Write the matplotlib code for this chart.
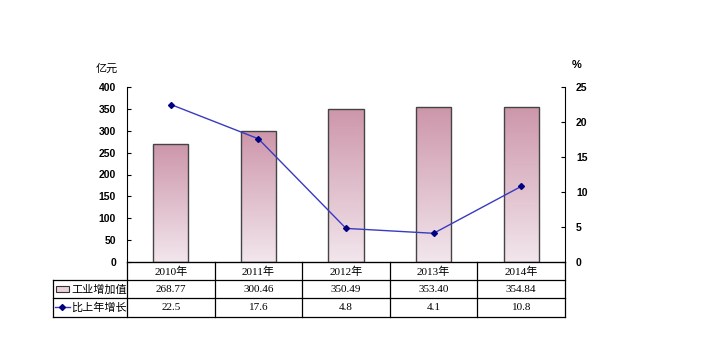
import numpy as np
import matplotlib
matplotlib.use("Agg")
from matplotlib import pyplot as plt
from matplotlib.patches import Rectangle
from matplotlib.lines import Line2D

years = ["2010年", "2011年", "2012年", "2013年", "2014年"]
value_added = [268.77, 300.46, 350.49, 353.40, 354.84]
growth = [22.5, 17.6, 4.8, 4.1, 10.8]
value_labels = ["268.77", "300.46", "350.49", "353.40", "354.84"]
growth_labels = ["22.5", "17.6", "4.8", "4.1", "10.8"]
series_names = ["工业增加值", "比上年增长"]

W, H = 703, 340
fig = plt.figure(figsize=(W / 100, H / 100), dpi=100)

cell_font = ["Liberation Serif", "Noto Sans CJK SC"]
tick_font = "Liberation Sans"

# plot area in pixel coordinates
x0, x1 = 127, 565
y_top, y_base = 87, 262
ax = fig.add_axes([x0 / W, 1 - y_base / H, (x1 - x0) / W, (y_base - y_top) / H])
x = np.arange(len(years))
ax.set_xlim(-0.5, len(years) - 0.5)
ax.set_ylim(0, 400)
ax.set_yticks(np.arange(0, 401, 50))
ax.set_xticks([])
for s in ("top", "right"):
    ax.spines[s].set_visible(False)
ax.spines["left"].set_linewidth(0.8)
ax.spines["bottom"].set_linewidth(0.8)
ax.tick_params(axis="y", direction="in", length=3, width=0.8, pad=8, labelsize=7.5)
for lab in ax.get_yticklabels():
    lab.set_fontweight("bold")
    lab.set_fontfamily(tick_font)

# bars with a vertical pink gradient
grad = np.linspace(0, 1, 256).reshape(-1, 1)
top_c = np.array([205, 150, 170]) / 255
bot_c = np.array([242, 230, 236]) / 255
grad_img = (bot_c * (1 - grad)[..., None] + top_c * grad[..., None]).reshape(256, 1, 3)
bars = ax.bar(x, value_added, width=0.4, facecolor="none",
              edgecolor="#444444", linewidth=1.0, zorder=3)
for b in bars:
    bx, by = b.get_x(), b.get_y()
    im = ax.imshow(grad_img, extent=[bx, bx + b.get_width(), by, by + b.get_height()],
                   origin="lower", aspect="auto", zorder=2, interpolation="bilinear")
    im.set_clip_path(b)
ax.set_xlim(-0.5, len(years) - 0.5)
ax.set_ylim(0, 400)

ax2 = ax.twinx()
ax2.set_ylim(0, 25)
ax2.set_yticks(np.arange(0, 26, 5))
for s in ("top", "left", "bottom"):
    ax2.spines[s].set_visible(False)
ax2.spines["right"].set_linewidth(0.8)
ax2.tick_params(axis="y", direction="in", length=3, width=0.8, pad=8, labelsize=7.5)
for lab in ax2.get_yticklabels():
    lab.set_fontweight("bold")
    lab.set_fontfamily(tick_font)
ax2.plot(x, growth, color="#3a3ac0", linewidth=1.0, marker="D", markersize=3,
         markerfacecolor="#000080", markeredgecolor="#000080", zorder=5)

fig.text(107 / W, 1 - 69 / H, "亿元", family=cell_font, fontsize=8,
         ha="center", va="center")
fig.text(577 / W, 1 - 65 / H, "%", family=tick_font, fontsize=8,
         fontweight="bold", ha="center", va="center")

# data table under the plot
tx0, ty_top, ty_bot = 53, 262, 317
tab = fig.add_axes([tx0 / W, 1 - ty_bot / H, (x1 - tx0) / W, (ty_bot - ty_top) / H])
tab.set_axis_off()
tab.set_xlim(tx0, x1)
tab.set_ylim(ty_bot, ty_top)
col_w = (x1 - x0) / len(years)
rows = [262, 280, 298, 317]
lw = 0.9
kw = dict(color="black", linewidth=lw, clip_on=False)
# horizontal lines
tab.plot([x0, x1], [rows[0], rows[0]], **kw)
for r in rows[1:]:
    tab.plot([tx0, x1], [r, r], **kw)
# vertical lines
tab.plot([tx0, tx0], [rows[1], rows[3]], **kw)
for i in range(len(years) + 1):
    xv = x0 + i * col_w
    tab.plot([xv, xv], [rows[0], rows[3]], **kw)

for i in range(len(years)):
    cx = x0 + (i + 0.5) * col_w
    for r, txt in enumerate([years[i], value_labels[i], growth_labels[i]]):
        tab.text(cx, (rows[r] + rows[r + 1]) / 2 + 0.5, txt, family=cell_font,
                 fontsize=8, ha="center", va="center")

# legend keys in the first column
tab.add_patch(Rectangle((56, 286), 13, 6, facecolor="#ecd2dc",
                        edgecolor="#333333", linewidth=0.8, clip_on=False))
tab.add_line(Line2D([55, 70], [307.5, 307.5], color="#3a3ac0", linewidth=1.0,
                    clip_on=False))
tab.plot([62.5], [307.5], marker="D", markersize=3, color="#000080", clip_on=False)
for r, name in zip((1, 2), series_names):
    tab.text(71, (rows[r] + rows[r + 1]) / 2 + 0.5, name, family=cell_font,
             fontsize=8, ha="left", va="center")

fig.savefig("out.png", dpi=100)
